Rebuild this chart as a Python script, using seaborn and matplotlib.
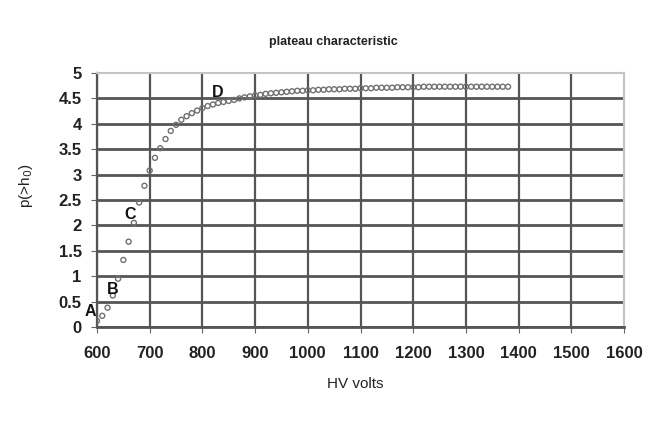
import matplotlib
matplotlib.use("Agg")
import matplotlib.pyplot as plt
import seaborn as sns
import pandas as pd

# HV scan, 10 V steps
hv_volts = [600, 610, 620, 630, 640, 650, 660, 670, 680, 690,
            700, 710, 720, 730, 740, 750, 760, 770, 780, 790,
            800, 810, 820, 830, 840, 850, 860, 870, 880, 890,
            900, 910, 920, 930, 940, 950, 960, 970, 980, 990,
            1000, 1010, 1020, 1030, 1040, 1050, 1060, 1070, 1080, 1090,
            1100, 1110, 1120, 1130, 1140, 1150, 1160, 1170, 1180, 1190,
            1200, 1210, 1220, 1230, 1240, 1250, 1260, 1270, 1280, 1290,
            1300, 1310, 1320, 1330, 1340, 1350, 1360, 1370, 1380]
p_h0 = [0.12, 0.22, 0.38, 0.62, 0.95, 1.32, 1.68, 2.05, 2.45, 2.78,
        3.08, 3.33, 3.52, 3.70, 3.86, 3.98, 4.08, 4.15, 4.21, 4.26,
        4.31, 4.35, 4.38, 4.41, 4.43, 4.45, 4.47, 4.50, 4.52, 4.54,
        4.56, 4.57, 4.59, 4.60, 4.61, 4.62, 4.63, 4.64, 4.65, 4.65,
        4.66, 4.66, 4.67, 4.67, 4.68, 4.68, 4.68, 4.69, 4.69, 4.69,
        4.70, 4.70, 4.70, 4.71, 4.71, 4.71, 4.71, 4.72, 4.72, 4.72,
        4.72, 4.72, 4.73, 4.73, 4.73, 4.73, 4.73, 4.73, 4.73, 4.73,
        4.73, 4.73, 4.73, 4.73, 4.73, 4.73, 4.73, 4.73, 4.73]

# point labels on the curve
mark_names = ["A", "B", "C", "D"]
mark_x = [587, 630, 662, 829]
mark_y = [0.30, 0.74, 2.22, 4.62]

x_ticks = list(range(600, 1601, 100))
y_ticks = [0, 0.5, 1, 1.5, 2, 2.5, 3, 3.5, 4, 4.5, 5]
y_tick_labels = ["0", "0.5", "1", "1.5", "2", "2.5", "3", "3.5", "4", "4.5", "5"]

df = pd.DataFrame({"hv": hv_volts, "p": p_h0})

sns.set_style("ticks")
plt.rcParams["font.family"] = ["Liberation Sans", "DejaVu Sans"]

fig = plt.figure(figsize=(6.62, 4.23), dpi=100)
ax = fig.add_axes([97 / 662, 96 / 423, 527 / 662, 254 / 423])

sns.scatterplot(data=df, x="hv", y="p", ax=ax, marker="o", s=13,
                facecolor="none", edgecolor="#707070", linewidth=1.0, zorder=3)

ax.set_xlim(600, 1600)
ax.set_ylim(0, 5)
ax.set_xticks(x_ticks)
ax.set_yticks(y_ticks)
ax.set_yticklabels(y_tick_labels)

ax.grid(True, color="#555555")
for gl in ax.get_ygridlines():
    gl.set_linewidth(2.0)
for gl in ax.get_xgridlines():
    gl.set_linewidth(1.6)
ax.get_ygridlines()[-1].set_visible(False)
ax.get_xgridlines()[-1].set_visible(False)
ax.set_axisbelow(True)

for side in ["top", "right"]:
    ax.spines[side].set_color("#c4c4c4")
    ax.spines[side].set_linewidth(1.5)
ax.spines["left"].set_color("#555555")
ax.spines["left"].set_linewidth(1.6)
ax.spines["bottom"].set_color("#555555")
ax.spines["bottom"].set_linewidth(2.0)

ax.tick_params(axis="x", direction="out", length=4, width=0.8, color="#666666",
               pad=10, labelsize=12)
ax.tick_params(axis="y", direction="out", length=4, width=0.8, color="#666666",
               pad=7, labelsize=12)
for lab in ax.get_xticklabels() + ax.get_yticklabels():
    lab.set_fontweight("bold")
    lab.set_color("#222222")

for name, mx, my in zip(mark_names, mark_x, mark_y):
    ax.text(mx, my, name, ha="center", va="center", fontsize=11.5,
            fontweight="bold", color="#111111", clip_on=False, zorder=4)

ax.set_xlabel("")
ax.set_ylabel("")
fig.text(333 / 662, 1 - 42 / 423, "plateau characteristic", ha="center",
         va="center", fontsize=9, fontweight="bold", color="#222222")
fig.text(355 / 662, 1 - 384 / 423, "HV volts", ha="center", va="center",
         fontsize=11, color="#222222")
fig.text(26 / 662, 1 - 186 / 423, "p(>h$_0$)", ha="center", va="center",
         rotation=90, fontsize=11, color="#222222")

fig.savefig("out.png", dpi=100)
